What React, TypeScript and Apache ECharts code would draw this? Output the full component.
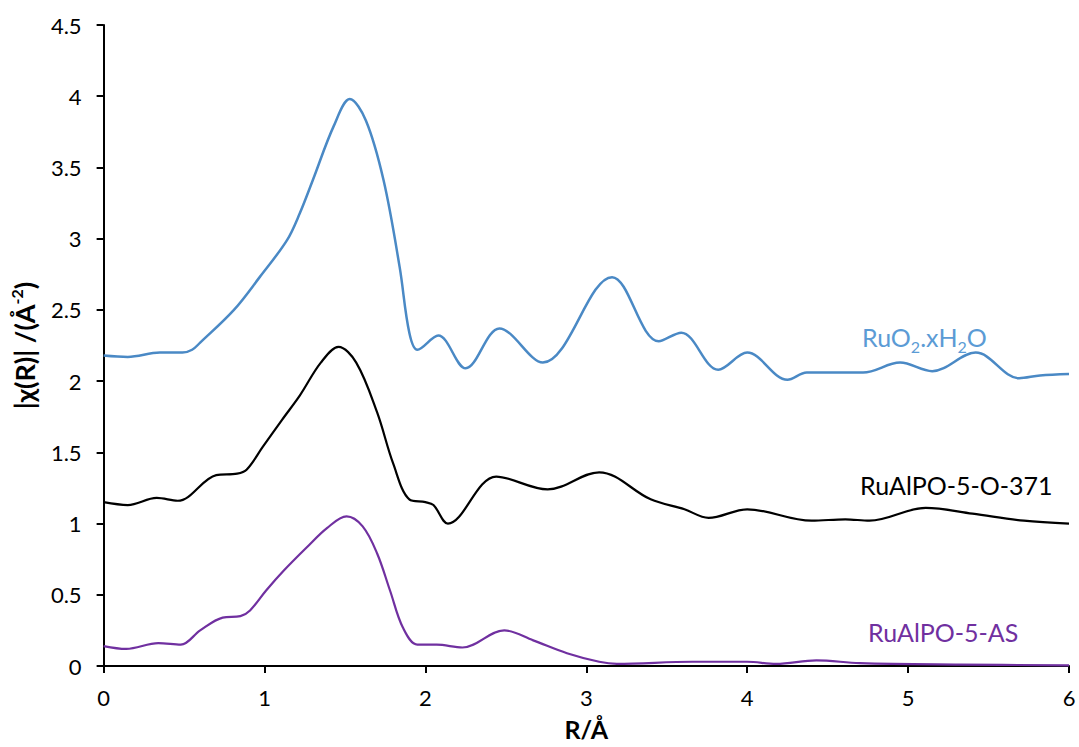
import React, { useEffect, useRef } from "react";
import * as echarts from "echarts";

const xTicks = [0, 1, 2, 3, 4, 5, 6];
const yTicks = [0, 0.5, 1, 1.5, 2, 2.5, 3, 3.5, 4, 4.5];

const seriesNames = ["RuO2.xH2O", "RuAlPO-5-O-371", "RuAlPO-5-AS"];

const ruO2: [number, number][] = [
  [0, 2.18], [0.15, 2.17], [0.35, 2.2], [0.49, 2.2], [0.55, 2.22], [0.6, 2.27],
  [0.81, 2.5], [0.97, 2.73], [1.14, 2.99], [1.22, 3.18], [1.3, 3.41], [1.43, 3.79],
  [1.53, 3.98], [1.63, 3.83], [1.74, 3.41], [1.84, 2.8], [1.9, 2.34], [1.95, 2.22],
  [2.08, 2.32], [2.25, 2.09], [2.46, 2.37], [2.73, 2.13], [3.16, 2.73],
  [3.45, 2.28], [3.59, 2.34], [3.82, 2.08], [4.0, 2.2], [4.25, 2.01],
  [4.37, 2.06], [4.72, 2.06], [4.95, 2.13], [5.15, 2.07], [5.42, 2.2], [5.69, 2.02],
  [5.82, 2.04], [6, 2.05],
];

const ruAlPO371: [number, number][] = [
  [0, 1.15], [0.15, 1.13], [0.33, 1.18], [0.46, 1.16], [0.7, 1.34], [0.83, 1.35],
  [0.89, 1.38], [0.99, 1.54], [1.11, 1.73], [1.22, 1.9], [1.35, 2.13], [1.46, 2.24],
  [1.57, 2.13], [1.7, 1.78], [1.8, 1.42], [1.9, 1.17], [2.0, 1.15], [2.05, 1.13],
  [2.14, 1.0], [2.44, 1.33], [2.76, 1.24], [3.08, 1.36], [3.4, 1.17], [3.61, 1.1],
  [3.76, 1.04], [4.0, 1.1], [4.4, 1.02], [4.61, 1.03], [4.76, 1.02], [5.11, 1.11],
  [5.4, 1.07], [5.72, 1.02], [6, 1.0],
];

const ruAlPOAS: [number, number][] = [
  [0, 0.14], [0.14, 0.12], [0.34, 0.16], [0.48, 0.15], [0.6, 0.25], [0.74, 0.34],
  [0.85, 0.35], [0.91, 0.39], [1.01, 0.53], [1.12, 0.67], [1.26, 0.83], [1.39, 0.97],
  [1.51, 1.05], [1.61, 0.98], [1.7, 0.79], [1.78, 0.53], [1.86, 0.27], [1.95, 0.15],
  [2.07, 0.15], [2.23, 0.13], [2.49, 0.25], [2.67, 0.18], [2.88, 0.09], [3.08, 0.03],
  [3.19, 0.015], [3.66, 0.03], [4.0, 0.03], [4.18, 0.015], [4.43, 0.04], [4.7, 0.02],
  [5.32, 0.01], [6, 0.005],
];

const FONT = "Lato, 'Open Sans', sans-serif";

export default function App() {
  const ref = useRef<HTMLDivElement>(null);
  useEffect(() => {
    if (!ref.current) return;
    const chart = echarts.init(ref.current, undefined, { renderer: "svg" });
    const axisLine = { show: true, onZero: false, lineStyle: { color: "#000", width: 2 } };
    const axisTick = { show: true, length: 7, lineStyle: { color: "#000", width: 2 } };
    chart.setOption({
      animation: false,
      backgroundColor: "#fff",
      textStyle: { fontFamily: FONT },
      grid: { left: 103.5, right: 10, top: 25, bottom: 81, containLabel: false },
      xAxis: {
        type: "value",
        min: xTicks[0],
        max: xTicks[xTicks.length - 1],
        interval: 1,
        axisLine,
        axisTick,
        splitLine: { show: false },
        axisLabel: { color: "#000", fontSize: 22, margin: 20, fontFamily: FONT },
        name: "R/Å",
        nameLocation: "middle",
        nameGap: 50,
        nameTextStyle: { color: "#000", fontWeight: "bold", fontSize: 25, fontFamily: FONT },
      },
      yAxis: {
        type: "value",
        min: yTicks[0],
        max: yTicks[yTicks.length - 1],
        interval: 0.5,
        axisLine,
        axisTick,
        splitLine: { show: false },
        axisLabel: { color: "#000", fontSize: 22, margin: 22, fontFamily: FONT },
        name: "|χ(R)| /(Å{sup|-2})",
        nameLocation: "middle",
        nameRotate: 90,
        nameGap: 62,
        nameTextStyle: {
          color: "#000",
          fontWeight: "bold",
          fontSize: 27,
          fontFamily: FONT,
          lineHeight: 32,
          rich: {
            sup: { fontSize: 16, fontWeight: "bold", verticalAlign: "top", lineHeight: 32, fontFamily: FONT },
          },
        },
      },
      series: [
        {
          name: seriesNames[0],
          type: "line",
          data: ruO2,
          smooth: 0.35,
          symbol: "none",
          lineStyle: { color: "#4A89C5", width: 2.5 },
        },
        {
          name: seriesNames[1],
          type: "line",
          data: ruAlPO371,
          smooth: 0.35,
          symbol: "none",
          lineStyle: { color: "#000", width: 2.2 },
        },
        {
          name: seriesNames[2],
          type: "line",
          data: ruAlPOAS,
          smooth: 0.35,
          symbol: "none",
          lineStyle: { color: "#7030A0", width: 2.2 },
        },
      ],
      graphic: [
        {
          type: "text",
          left: 862,
          top: 320,
          style: {
            text: "RuO{sub|2}.xH{sub|2}O",
            fill: "#5B9BD5",
            fontSize: 25,
            fontFamily: FONT,
            lineHeight: 34,
            rich: {
              sub: { fontSize: 16, fill: "#5B9BD5", verticalAlign: "bottom", lineHeight: 34, fontFamily: FONT },
            },
          },
        },
        {
          type: "text",
          left: 860,
          top: 472,
          style: { text: seriesNames[1], fill: "#000", fontSize: 25, fontFamily: FONT },
        },
        {
          type: "text",
          left: 868,
          top: 619,
          style: { text: seriesNames[2], fill: "#7030A0", fontSize: 25, fontFamily: FONT },
        },
      ],
    });
    return () => chart.dispose();
  }, []);
  return (
    <div
      ref={ref}
      style={{ position: "fixed", left: 0, top: 0, width: 1079, height: 747, background: "#fff" }}
    />
  );
}
